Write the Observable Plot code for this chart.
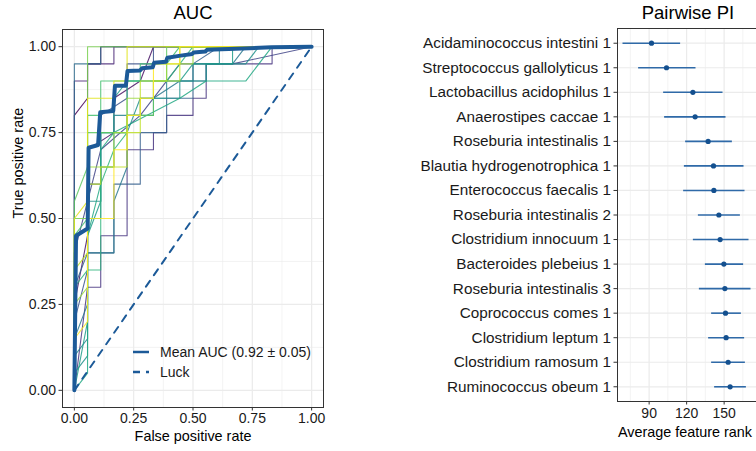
<!DOCTYPE html>
<html>
<head>
<meta charset="utf-8">
<script src="https://cdn.jsdelivr.net/npm/d3@7"></script>
<script src="https://cdn.jsdelivr.net/npm/@observablehq/plot@0.6"></script>
<style>
  html, body { margin: 0; padding: 0; background: #fff; }
  body { width: 756px; height: 451px; overflow: hidden; position: relative; font-family: "Liberation Sans", Arial, sans-serif; }
  #left { position: absolute; left: 0; top: 0; width: 380px; height: 451px; }
  #right { position: absolute; left: 400px; top: 0; width: 380px; height: 451px; }
  #left svg, #right svg { display: block; max-width: none !important; width: 380px !important; height: 451px !important; }
  #legend { position: absolute; left: 130px; top: 342px; font-size: 14px; color: #1a1a1a; }
  #legend div { height: 20px; display: flex; align-items: center; }
  #legend svg { margin-right: 10px; }
</style>
</head>
<body>
<div id="left"></div>
<div id="right"></div>
<div id="legend">
  <div><svg width="20" height="10"><line x1="3" x2="19" y1="5" y2="5" stroke="#1c5a98" stroke-width="2.5"/></svg>Mean AUC (0.92 ± 0.05)</div>
  <div><svg width="20" height="10"><line x1="3" x2="19" y1="5" y2="5" stroke="#1c5a98" stroke-width="2.5" stroke-dasharray="7 6"/></svg>Luck</div>
</div>
<script>
// ---------- Left panel data: ROC curves per fold (false positives of 18, true positives of 20)
const nNeg = 18, nPos = 20;
const foldA = [[0,0],[0,16],[1,17],[1,19],[2,19],[2,20],[18,20]];
const foldB = [[0,0],[0,5],[1,9],[1,14],[3,15],[3,17],[5,18],[6,20],[18,20]];
const foldC = [[0,0],[0,9],[0,18],[1,18],[1,19],[3,19],[3,20],[18,20]];
const foldD = [[0,0],[1,6],[2,6],[2,9],[4,9],[4,14],[6,14],[6,15],[7,15],[7,16],[9,16],[9,17],[10,17],[10,19],[15,19],[15,20],[18,20]];
const foldE = [[0,0],[0,8],[1,11],[2,14],[5,16],[8,19],[12,19],[18,20]];
const foldF = [[0,0],[0,4],[1,7],[1,12],[2,12],[2,16],[4,17],[4,19],[6,19],[6,20],[18,20]];
const foldG = [[0,0],[0,6],[1,8],[3,8],[3,12],[5,12],[5,15],[7,15],[7,17],[9,17],[9,19],[11,20],[18,20]];
const foldH = [[0,0],[0,13],[0,19],[2,19],[2,20],[18,20]];
const foldI = [[0,0],[0,3],[1,5],[1,8],[3,8],[3,11],[4,13],[4,16],[6,16],[6,17],[8,18],[10,18],[10,19],[12,19],[13,20],[18,20]];
const foldJ = [[0,0],[0,2],[1,3],[1,10],[2,10],[2,13],[3,13],[3,16],[5,16],[5,17],[7,17],[7,18],[9,18],[9,19],[11,19],[11,20],[18,20]];
const foldK = [[0,0],[0,1],[1,2],[1,11],[2,11],[2,15],[4,15],[5,17],[8,17],[8,18],[10,18],[10,19],[13,19],[14,20],[18,20]];
const foldL = [[0,0],[1,4],[1,9],[2,11],[2,15],[3,15],[3,17],[4,18],[8,18],[9,19],[12,19],[12,20],[18,20]];
const foldM = [[0,0],[1,1],[1,9],[2,12],[2,14],[3,15],[8,17],[10,18],[13,18],[15,20],[18,20]];
const foldN = [[0,0],[0,6],[1,7],[2,7],[2,12],[3,14],[4,15],[4,18],[7,18],[8,19],[9,20],[18,20]];
const foldO = [[0,0],[0,9],[1,10],[1,16],[2,16],[2,18],[5,18],[5,19],[7,19],[8,20],[18,20]];
const foldP = [[0,0],[0,11],[1,13],[1,15],[4,15],[4,16],[6,16],[6,18],[7,18],[7,20],[18,20]];
const foldQ = [[0,0],[0,7],[0,10],[1,10],[1,14],[1,20],[18,20]];
const foldR = [[0,0],[0,5],[1,6],[1,13],[3,13],[3,15],[4,15],[4,17],[6,17],[6,18],[7,18],[7,19],[9,19],[9,20],[18,20]];
const foldS = [[0,0],[0,7],[1,8],[1,12],[2,12],[2,13],[4,13],[4,15],[5,15],[5,18],[8,18],[8,20],[18,20]];
const foldT = [[0,0],[0,10],[1,11],[1,17],[3,17],[3,18],[4,18],[4,20],[18,20]];
const foldU = [[0,0],[0,3],[1,4],[1,10],[3,10],[3,14],[4,14],[4,16],[5,16],[5,17],[6,17],[6,19],[8,19],[8,20],[18,20]];
const folds = [foldA, foldB, foldC, foldD, foldE, foldF, foldG, foldH, foldI, foldJ, foldK, foldL, foldM, foldN, foldO, foldP, foldQ, foldR, foldS, foldT, foldU];

const meanFpr = [0, 0.007, 0.056, 0.06, 0.10, 0.109, 0.164, 0.171, 0.217, 0.224, 0.277, 0.285, 0.330, 0.336, 0.386, 0.392, 0.448, 0.497, 0.503, 0.552, 0.559, 0.65, 0.83, 1];
const meanTpr = [0, 0.45, 0.471, 0.706, 0.714, 0.809, 0.813, 0.886, 0.886, 0.929, 0.931, 0.937, 0.940, 0.953, 0.956, 0.968, 0.974, 0.979, 0.983, 0.986, 0.991, 0.993, 0.998, 1];
const luckFpr = [0, 1];
const luckTpr = [0, 1];
const rocTicks = [0, 0.25, 0.5, 0.75, 1];
const rocMinor = [0.125, 0.375, 0.625, 0.875];

// ---------- Right panel data
const features = ["Acidaminococcus intestini 1","Streptococcus gallolyticus 1","Lactobacillus acidophilus 1","Anaerostipes caccae 1","Roseburia intestinalis 1","Blautia hydrogenotrophica 1","Enterococcus faecalis 1","Roseburia intestinalis 2","Clostridium innocuum 1","Bacteroides plebeius 1","Roseburia intestinalis 3","Coprococcus comes 1","Clostridium leptum 1","Clostridium ramosum 1","Ruminococcus obeum 1"];
const rankMean = [91.9, 103.9, 125.0, 126.8, 137.2, 141.5, 141.8, 145.8, 146.8, 149.8, 150.6, 151.1, 151.6, 153.2, 154.8];
const rankLow  = [68.7, 81.2, 101.2, 102.0, 118.8, 117.8, 117.2, 129.0, 125.0, 134.6, 129.8, 139.6, 137.2, 139.6, 142.0];
const rankHigh = [114.8, 127.1, 148.7, 151.1, 156.2, 165.5, 166.3, 162.6, 169.5, 165.2, 171.1, 163.4, 166.0, 166.6, 167.4];
const rankTicks = [90, 120, 150];
const rankMinor = [75, 105, 135, 165];

const FONT = '"Liberation Sans", Arial, sans-serif';
const GRID = "#ebebeb";
const INK = "#1a1a1a";
const BLUE = "#1c5a98";
const foldColors = d3.quantize(d3.interpolateViridis, folds.length);

// ---------- Left plot
const meanData = meanFpr.map((f, i) => ({fpr: f, tpr: meanTpr[i]}));
const luckData = luckFpr.map((f, i) => ({fpr: f, tpr: luckTpr[i]}));

const left = Plot.plot({
  width: 380, height: 451,
  marginLeft: 62, marginRight: 57, marginTop: 29, marginBottom: 44,
  style: {fontFamily: FONT, fontSize: "14px", color: INK, background: "#fff"},
  x: {domain: [-0.05, 1.05]},
  y: {domain: [-0.05, 1.05]},
  marks: [
    Plot.gridX(rocMinor, {stroke: GRID, strokeOpacity: 1, strokeWidth: 0.6}),
    Plot.gridY(rocMinor, {stroke: GRID, strokeOpacity: 1, strokeWidth: 0.6}),
    Plot.gridX(rocTicks, {stroke: GRID, strokeOpacity: 1, strokeWidth: 1.2}),
    Plot.gridY(rocTicks, {stroke: GRID, strokeOpacity: 1, strokeWidth: 1.2}),
    ...folds.map((f, k) => Plot.line(f, {x: d => d[0] / nNeg, y: d => d[1] / nPos, stroke: foldColors[k], strokeWidth: 1.1, strokeOpacity: 0.85})),
    Plot.line(luckData, {x: "fpr", y: "tpr", stroke: BLUE, strokeWidth: 2, strokeDasharray: "7 7"}),
    Plot.line(meanData, {x: "fpr", y: "tpr", stroke: BLUE, strokeWidth: 4, strokeLinejoin: "round"}),
    Plot.frame({stroke: "#333", strokeWidth: 1}),
    Plot.axisX(rocTicks, {tickFormat: d3.format(".2f"), tickSize: 3.5, tickPadding: 2, fontSize: 14, label: null, stroke: "#333", fill: INK}),
    Plot.axisY(rocTicks, {tickFormat: d3.format(".2f"), tickSize: 3.5, tickPadding: 3, fontSize: 14, label: null, stroke: "#333", fill: INK}),
    Plot.text(["AUC"], {frameAnchor: "top", lineAnchor: "middle", dy: -16, fontSize: 18.5, fill: "#000"}),
    Plot.text(["False positive rate"], {frameAnchor: "bottom", lineAnchor: "middle", dy: 29, fontSize: 14.4, fill: "#000"}),
    Plot.text(["True positive rate"], {frameAnchor: "left", lineAnchor: "middle", dx: -44, rotate: -90, fontSize: 14.4, fill: "#000"})
  ]
});
document.getElementById("left").append(left);

// ---------- Right plot
const rankData = features.map((f, i) => ({feature: f, mean: rankMean[i], lo: rankLow[i], hi: rankHigh[i]}));
const right = Plot.plot({
  width: 380, height: 451,
  marginLeft: 217, marginRight: 22, marginTop: 28, marginBottom: 50,
  style: {fontFamily: FONT, fontSize: "14px", color: INK, background: "#fff"},
  x: {domain: [64.7, 177.5]},
  y: {type: "point", domain: features, padding: 0.6, round: false},
  marks: [
    Plot.gridX(rankMinor, {stroke: GRID, strokeOpacity: 1, strokeWidth: 0.6}),
    Plot.gridX(rankTicks, {stroke: GRID, strokeOpacity: 1, strokeWidth: 1.2}),
    Plot.gridY(features, {stroke: GRID, strokeOpacity: 1, strokeWidth: 1.2}),
    Plot.link(rankData, {x1: "lo", x2: "hi", y1: "feature", y2: "feature", stroke: "#2f6aa8", strokeWidth: 1.6}),
    Plot.dot(rankData, {x: "mean", y: "feature", r: 2.6, fill: "#14508f", stroke: "none"}),
    Plot.frame({stroke: "#333", strokeWidth: 1}),
    Plot.axisX(rankTicks, {tickSize: 3.5, tickPadding: 3, fontSize: 14, label: null, stroke: "#333", fill: INK}),
    Plot.axisY(features, {tickSize: 3.5, tickPadding: 3, fontSize: 15.3, label: null, stroke: "#333", fill: INK}),
    Plot.text(["Pairwise PI"], {frameAnchor: "top", lineAnchor: "middle", dy: -15, fontSize: 18.5, fill: "#000"}),
    Plot.text(["Average feature rank"], {frameAnchor: "bottom", lineAnchor: "middle", dy: 31, dx: -3, fontSize: 14.4, fill: "#000"})
  ]
});
document.getElementById("right").append(right);
</script>
</body>
</html>
